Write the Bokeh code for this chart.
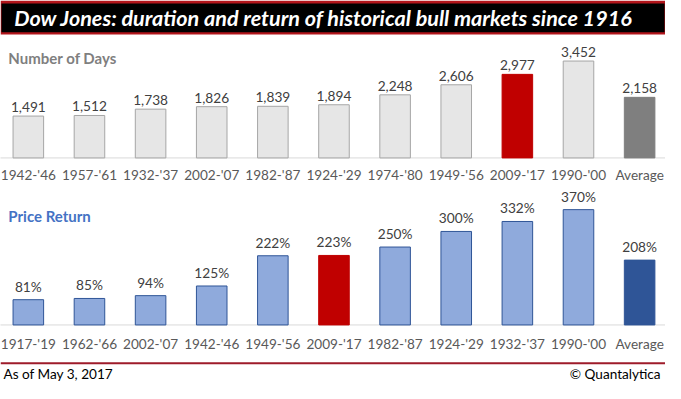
from bokeh.plotting import figure
from bokeh.models import Range1d
from bokeh.core.properties import value
from bokeh.embed import file_html
from bokeh.resources import INLINE

# ---------------- data ----------------
days_cats = ["1942-'46", "1957-'61", "1932-'37", "2002-'07", "1982-'87", "1924-'29",
             "1974-'80", "1949-'56", "2009-'17", "1990-'00", "Average"]
days_vals = [1491, 1512, 1738, 1826, 1839, 1894, 2248, 2606, 2977, 3452, 2158]

ret_cats = ["1917-'19", "1962-'66", "2002-'07", "1942-'46", "1949-'56", "2009-'17",
            "1982-'87", "1924-'29", "1932-'37", "1990-'00", "Average"]
ret_vals = [81, 85, 94, 125, 222, 223, 250, 300, 332, 370, 208]

title_text = "Dow Jones: duration and return of historical bull markets since 1916"
days_title = "Number of Days"
ret_title = "Price Return"
note_left = "As of May 3, 2017"
note_right = "\u00a9 Quantalytica"
highlight = "2009-'17"
avg_name = "Average"

# ---------------- layout ----------------
W, H = 665, 383
RW, RH = 681, 399          # reference design space
k = (W / RW + H / RH) / 2  # font scale


def fs(px):
    return "%.1fpx" % (px * k)


FONT = value("Lato")

p = figure(width=W, height=H, output_backend="svg", toolbar_location=None,
           x_range=Range1d(0, RW), y_range=Range1d(RH, 0), min_border=0,
           background_fill_color="white", border_fill_color="white")
p.axis.visible = False
p.grid.visible = False
p.outline_line_color = None

# category slots: center of first slot at 28.5 px, pitch 62.6 px
c0, pitch = 28.5, 62.6
p.extra_x_ranges = {"cat": Range1d(-c0 / pitch, (RW - c0) / pitch)}
d_base, d_scale = 164, 34.2
r_base, r_scale = 338, 3.08
p.extra_y_ranges = {
    "days": Range1d(-(RH - d_base) * d_scale, d_base * d_scale),
    "ret": Range1d(-(RH - r_base) * r_scale, r_base * r_scale),
}

# ---------------- header band ----------------
p.quad(left=[0], right=[RW], top=[0], bottom=[35.5], fill_color="#b2151b", line_color=None)
p.quad(left=[1], right=[RW - 1], top=[3], bottom=[33], fill_color="#000000", line_color=None)
p.text(x=[14], y=[18.5], text=[title_text], text_color="white",
       text_font=FONT, text_font_style="bold italic",
       text_font_size=fs(22.3), text_baseline="middle", text_align="left")

# ---------------- Number of days panel ----------------
xs = list(range(len(days_cats)))
d_fill = ["#c00000" if c == highlight else ("#7f7f7f" if c == avg_name else "#e6e6e6") for c in days_cats]
d_line = ["#c00000" if c == highlight else ("#7f7f7f" if c == avg_name else "#a6a6a6") for c in days_cats]
p.line(x=[-1, 12], y=[0, 0], x_range_name="cat", y_range_name="days", line_color="#d9d9d9", line_width=1)
p.vbar(x=xs, top=days_vals, width=0.5, bottom=0, x_range_name="cat", y_range_name="days",
       fill_color=d_fill, line_color=d_line, line_width=1)
p.text(x=xs, y=days_vals, text=["{:,}".format(v) for v in days_vals], x_range_name="cat",
       y_range_name="days", text_align="center", text_baseline="bottom", y_offset=-4,
       text_font=FONT, text_font_size=fs(14.2), text_color="#404040")
p.text(x=xs, y=[0] * len(xs), text=days_cats, x_range_name="cat", y_range_name="days",
       text_align="center", text_baseline="middle", y_offset=18 * k,
       text_font=FONT, text_font_size=fs(14), text_color="#595959")
p.text(x=[8], y=[60], text=[days_title], text_align="left", text_baseline="middle",
       text_font=FONT, text_font_style="bold", text_font_size=fs(15.5), text_color="#7f7f7f")

# ---------------- Price return panel ----------------
r_fill = ["#c00000" if c == highlight else ("#2f5597" if c == avg_name else "#8faadc") for c in ret_cats]
r_line = ["#c00000" if c == highlight else "#2f5597" for c in ret_cats]
p.line(x=[-1, 12], y=[0, 0], x_range_name="cat", y_range_name="ret", line_color="#d9d9d9", line_width=1)
p.vbar(x=xs, top=ret_vals, width=0.5, bottom=0, x_range_name="cat", y_range_name="ret",
       fill_color=r_fill, line_color=r_line, line_width=1)
p.text(x=xs, y=ret_vals, text=["{}%".format(v) for v in ret_vals], x_range_name="cat",
       y_range_name="ret", text_align="center", text_baseline="bottom", y_offset=-5,
       text_font=FONT, text_font_size=fs(14.2), text_color="#404040")
p.text(x=xs, y=[0] * len(xs), text=ret_cats, x_range_name="cat", y_range_name="ret",
       text_align="center", text_baseline="middle", y_offset=20 * k,
       text_font=FONT, text_font_size=fs(14), text_color="#595959")
p.text(x=[8], y=[225], text=[ret_title], text_align="left", text_baseline="middle",
       text_font=FONT, text_font_style="bold", text_font_size=fs(15.5), text_color="#4472c4")

# ---------------- footer ----------------
p.line(x=[0, RW], y=[378, 378], line_color="#9e1b2a", line_width=2)
p.text(x=[3], y=[389], text=[note_left], text_align="left", text_baseline="middle",
       text_font=FONT, text_font_size=fs(14), text_color="#000000")
p.text(x=[676], y=[389], text=[note_right], text_align="right", text_baseline="middle",
       text_font=FONT, text_font_size=fs(14), text_color="#000000")

open("out.html", "w").write(file_html(p, INLINE))
